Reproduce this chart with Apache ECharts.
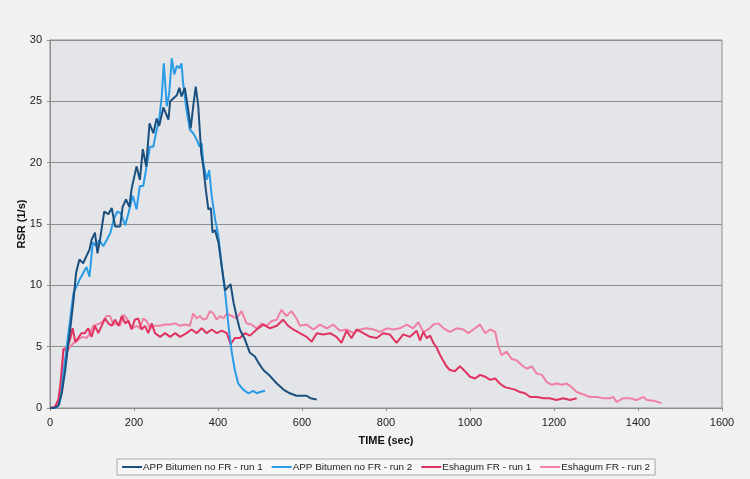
<!DOCTYPE html>
<html>
<head>
<meta charset="utf-8">
<script src="https://cdn.jsdelivr.net/npm/echarts@6/dist/echarts.min.js"></script>
<style>
html,body{margin:0;padding:0;background:#f1f1f1;}
#chart{width:750px;height:479px;}
</style>
</head>
<body>
<div id="chart"></div>
<script>
// Series names
const seriesNames = ['APP Bitumen no FR - run 1', 'APP Bitumen no FR - run 2', 'Eshagum FR - run 1', 'Eshagum FR - run 2'];
const xTicks = [0, 200, 400, 600, 800, 1000, 1200, 1400, 1600];
const yTicks = [0, 5, 10, 15, 20, 25, 30];

// APP Bitumen no FR - run 1
const app1Time = [0,10,20,28,36,42,48,56,62,70,79,87,94,99,107,113,119,129,139,147,155,167,173,181,189,194,206,214,221,229,237,246,254,260,270,282,286,302,308,313,321,329,335,341,347,353,360,365,371,377,383,387,393,401,409,417,425,430,437,444,452,464,476,488,496,508,524,540,556,571,587,611,620,635];
const app1RSR  = [0,0,0.2,1.2,3,4.8,6.4,8.8,11,12.1,11.8,12.4,12.9,13.7,14.3,12.6,13.7,16.0,15.8,16.3,14.8,14.8,16.4,17.0,16.4,17.8,19.7,18.6,21.1,19.7,23.2,22.4,23.6,23.0,24.5,23.5,25,25.5,26.1,25.4,26.1,24.3,22.8,24.6,26.2,24.6,20.8,19.7,17.8,16.2,16.3,14.3,14.5,13.5,11.5,9.6,9.9,10.1,8.6,7.5,6.4,5.6,4.5,4.2,3.7,3.1,2.6,2.0,1.5,1.2,1.0,1.0,0.8,0.7];

// APP Bitumen no FR - run 2
const app2Time = [0,15,22,27,32,38,44,50,56,63,71,79,87,94,102,110,117,127,135,144,152,160,168,179,187,197,206,214,222,230,238,246,254,260,266,271,278,284,290,296,302,308,313,317,325,333,341,349,356,361,365,373,379,385,393,401,405,411,417,425,433,440,448,460,472,484,492,500,512];
const app2RSR  = [0,0,0.3,1.2,2.9,4.5,6.1,7.8,9.4,9.9,10.5,11,11.5,10.7,13.5,13.2,13.7,13.2,13.7,14.3,15.4,16.0,15.9,14.9,15.9,17.3,16.2,18.1,18.1,19.7,21.3,21.3,22.7,23.5,25.4,28.1,24.6,25.7,28.5,27.2,27.9,27.7,28.1,26.5,24.3,22.7,22.4,21.9,21.3,21.6,20.0,18.6,19.4,17.3,15.4,14.0,14.0,11,9.4,6.7,4.5,3.1,2.0,1.5,1.2,1.4,1.2,1.3,1.4];

// Eshagum FR - run 1
const esh1Time = [0,12,20,25,32,40,48,54,60,67,75,83,91,99,107,115,123,131,139,147,155,163,171,179,187,194,202,210,218,226,234,242,250,262,274,286,298,310,325,337,349,361,373,385,397,409,421,430,440,452,464,476,492,508,524,540,555,567,579,595,611,623,635,651,667,682,694,706,718,730,746,762,778,793,809,825,841,857,873,881,889,897,905,913,921,929,937,944,952,964,976,988,1000,1012,1024,1036,1048,1060,1071,1083,1095,1107,1119,1131,1143,1159,1175,1190,1206,1222,1238,1254];
const esh1RSR  = [0,0.1,0.7,2,4.8,4.9,5.6,6.5,5.4,5.7,6.1,6.1,6.5,5.8,6.7,6.1,6.7,7.3,6.9,6.7,7.2,6.7,7.5,6.9,7.1,6.4,7.2,7.3,6.4,6.7,6.1,6.9,6.1,5.8,6.1,5.8,6.1,5.8,6.1,6.4,6.1,6.5,6.1,6.4,6.1,6.3,6.1,5.2,5.7,5.7,6.1,5.9,6.4,6.8,6.5,6.7,7.2,6.7,6.4,6.1,5.8,5.4,6.1,6.0,6.1,5.8,5.3,6.3,5.7,6.4,6.1,5.8,5.7,6.1,6.0,5.3,6.0,5.8,6.3,5.5,6.2,5.7,5.9,5.3,4.9,4.3,3.8,3.4,3.1,3.0,3.4,3.0,2.55,2.4,2.7,2.55,2.3,2.4,2.0,1.7,1.6,1.5,1.3,1.2,0.9,0.9,0.8,0.8,0.65,0.8,0.65,0.8];

// Eshagum FR - run 2
const esh2Time = [0,15,22,27,32,40,48,56,63,71,79,87,95,103,111,119,127,135,143,151,159,167,175,183,190,198,206,214,222,230,238,250,262,274,286,298,310,321,333,341,349,357,365,373,381,389,397,405,413,421,433,444,456,468,480,492,504,516,528,540,551,563,575,587,595,611,627,643,659,674,690,706,722,738,754,770,786,802,817,833,849,865,877,889,901,913,925,937,952,968,984,996,1008,1024,1036,1048,1060,1067,1075,1087,1099,1111,1123,1135,1147,1159,1171,1183,1194,1206,1218,1230,1242,1254,1270,1286,1302,1318,1333,1341,1349,1365,1381,1397,1413,1421,1437,1456];
const esh2RSR  = [0,0,0.5,2,4.8,4.6,5.0,5.3,5.4,5.7,5.8,5.7,6.1,6.7,6.8,6.9,7.1,7.5,7.5,6.8,6.9,6.7,7.6,7.3,6.8,6.5,6.7,6.5,7.3,7.1,6.5,6.7,6.7,6.8,6.8,6.9,6.7,6.8,6.7,7.7,7.3,7.5,7.2,7.3,7.9,7.7,7.2,7.5,7.3,7.7,7.5,7.3,7.9,6.9,6.8,6.5,6.9,6.7,7.1,7.2,8.0,7.5,7.9,7.3,6.7,6.8,6.4,6.8,6.5,6.8,6.3,6.4,6.1,6.4,6.5,6.4,6.2,6.5,6.4,6.5,6.8,6.5,7.0,6.2,6.4,6.8,6.9,6.5,6.2,6.5,6.4,6.1,6.4,6.8,6.1,6.4,6.2,5.1,4.3,4.6,4.0,3.9,3.5,3.2,3.4,2.8,2.7,2.1,1.9,2.0,1.9,2.0,1.7,1.3,1.1,0.9,0.9,0.8,0.8,0.9,0.5,0.8,0.8,0.65,0.9,0.65,0.6,0.4];

const colors = ['#1b4f7e', '#2a9be6', '#e0335f', '#f07fa4'];

function zip(t, v) { return t.map((x, i) => [x, v[i]]); }
const allData = [zip(app1Time, app1RSR), zip(app2Time, app2RSR), zip(esh1Time, esh1RSR), zip(esh2Time, esh2RSR)];

const chart = echarts.init(document.getElementById('chart'));
const font = 'Liberation Sans, Arial, sans-serif';
chart.setOption({
  backgroundColor: '#f1f1f1',
  animation: false,
  textStyle: { fontFamily: font },
  grid: { left: 50, top: 40, width: 672, height: 368, show: true, backgroundColor: '#e3e5e9', borderColor: '#8c8c8c', borderWidth: 1 },
  legend: {
    left: 117, top: 459,
    padding: [3, 5, 3, 5],
    borderColor: '#a8a8a8', borderWidth: 1, borderRadius: 0,
    backgroundColor: '#f6f6f6',
    icon: 'rect', itemWidth: 20, itemHeight: 2, itemGap: 9,
    textStyle: { fontSize: 9.9, color: '#222', fontFamily: font, padding: [0, 0, 0, -4] },
    data: seriesNames
  },
  xAxis: {
    type: 'value', min: xTicks[0], max: xTicks[xTicks.length - 1], interval: 200,
    name: 'TIME (sec)', nameLocation: 'middle', nameGap: 27, nameMoveOverlap: false,
    nameTextStyle: { fontWeight: 'bold', fontSize: 11, color: '#111', fontFamily: font },
    axisLine: { show: true, lineStyle: { color: '#8c8c8c' } },
    axisTick: { show: true, length: 3, lineStyle: { color: '#8c8c8c' } },
    axisLabel: { fontSize: 11, color: '#222', margin: 9, fontFamily: font, formatter: v => String(v) },
    splitLine: { show: false }
  },
  yAxis: {
    type: 'value', min: yTicks[0], max: yTicks[yTicks.length - 1], interval: 5,
    name: 'RSR (1/s)', nameLocation: 'middle', nameGap: 23, nameRotate: 90, nameMoveOverlap: false,
    nameTextStyle: { fontWeight: 'bold', fontSize: 11, color: '#111', fontFamily: font },
    axisLine: { show: true, lineStyle: { color: '#8c8c8c' } },
    axisTick: { show: true, length: 3, lineStyle: { color: '#8c8c8c' } },
    axisLabel: { fontSize: 11, color: '#222', margin: 8, fontFamily: font, formatter: v => String(v) },
    splitLine: { show: true, lineStyle: { color: '#8e8e8e', width: 1 } }
  },
  series: seriesNames.map((n, i) => ({
    name: n, type: 'line', data: allData[i], showSymbol: false, smooth: false,
    lineStyle: { width: 2, color: colors[i] }, itemStyle: { color: colors[i] },
    z: 4 - i
  }))
});
</script>
</body>
</html>
